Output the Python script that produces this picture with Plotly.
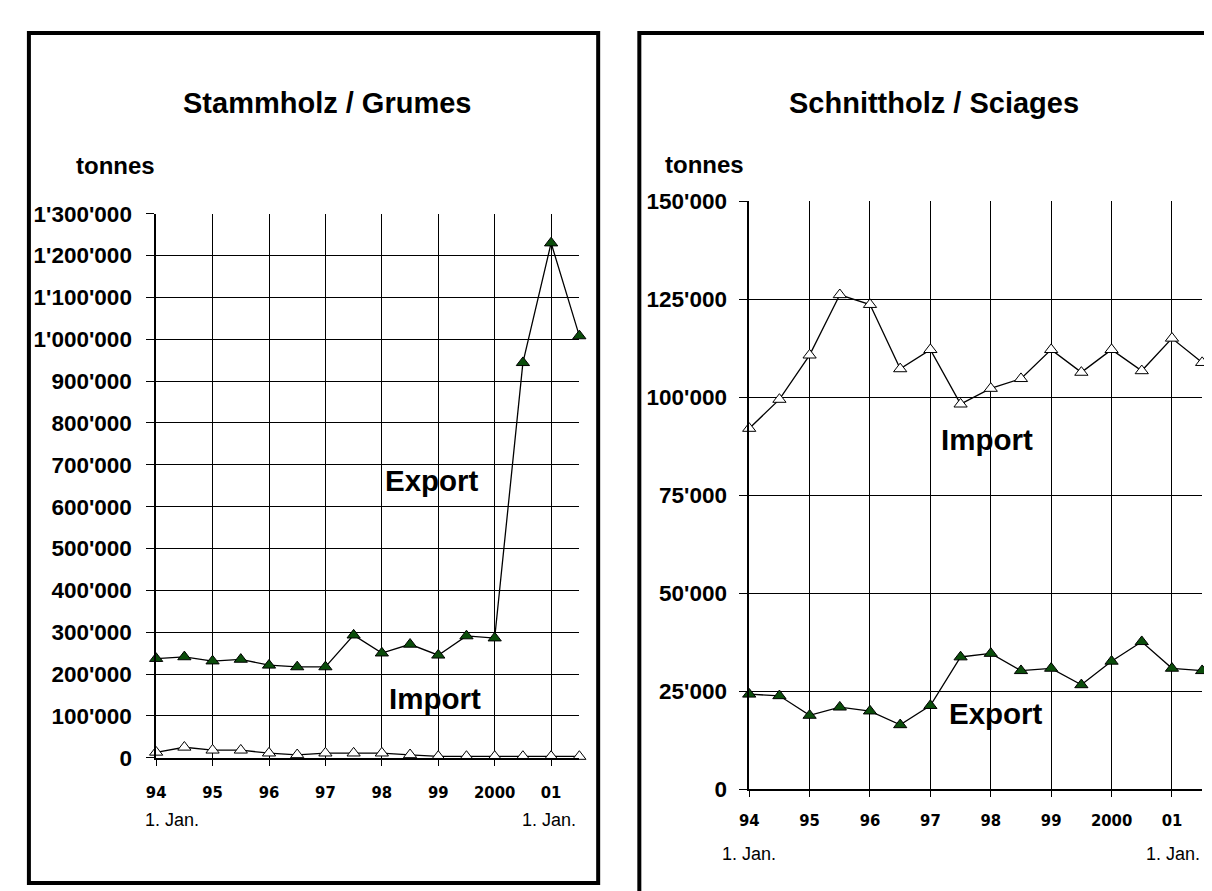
import plotly.graph_objects as go

W, H = 1212, 891

# ---------------- data ----------------
periods = [1994.0, 1994.5, 1995.0, 1995.5, 1996.0, 1996.5, 1997.0, 1997.5,
           1998.0, 1998.5, 1999.0, 1999.5, 2000.0, 2000.5, 2001.0, 2001.5]
year_ticks = [1994, 1995, 1996, 1997, 1998, 1999, 2000, 2001]
year_labels = ["94", "95", "96", "97", "98", "99", "2000", "01"]

# Stammholz / Grumes (tonnes)
logs_export = [237000, 241000, 231000, 235000, 221000, 217000, 217000, 293000,
               250000, 271000, 245000, 291000, 286000, 944000, 1230000, 1008000]
logs_import = [13000, 25000, 18000, 18000, 11000, 7000, 11000, 11000,
               11000, 7000, 3000, 3000, 3000, 3000, 3000, 3000]
logs_yticks = [0, 100000, 200000, 300000, 400000, 500000, 600000, 700000,
               800000, 900000, 1000000, 1100000, 1200000, 1300000]

# Schnittholz / Sciages (tonnes)
sawn_import = [92100, 99500, 110800, 126200, 123700, 107300, 112200, 98300,
               102300, 104800, 112200, 106400, 112200, 106800, 115100, 108900]
sawn_export = [24300, 23900, 18900, 21000, 20000, 16500, 21400, 33800,
               34700, 30300, 30900, 26700, 32700, 37700, 30900, 30300]
sawn_yticks = [0, 25000, 50000, 75000, 100000, 125000, 150000]


def fmt(v):
    return f"{v:,}".replace(",", "'")


GREEN = "#0b4d0b"
FONT = "Liberation Sans, Arial, sans-serif"
NARROW = "DejaVu Sans Condensed, DejaVu Sans, sans-serif"


def px(x):
    return x / W


def py(y):
    return 1 - y / H


fig = go.Figure()


def add_series(xa, ya, x, y, fill):
    fig.add_trace(go.Scatter(
        x=x, y=y, xaxis=xa, yaxis=ya, mode="lines+markers",
        line=dict(color="black", width=1.3),
        marker=dict(symbol="triangle-up", size=11.5, color=fill,
                    line=dict(color="black", width=1)),
        showlegend=False, cliponaxis=False, hoverinfo="skip"))


add_series("x", "y", periods, logs_export, GREEN)
add_series("x", "y", periods, logs_import, "white")
add_series("x2", "y2", periods, sawn_import, "white")
add_series("x2", "y2", periods, sawn_export, GREEN)

xaxis_common = dict(
    range=[1994, 2001.5], tickvals=year_ticks, ticktext=year_labels,
    showgrid=True, gridcolor="black", gridwidth=1,
    showline=True, linecolor="black", linewidth=2,
    ticks="outside", ticklen=6, tickcolor="black", tickwidth=1,
    tickfont=dict(family=NARROW, size=16.5, color="black", weight="bold"),
    zeroline=False, fixedrange=True,
)
yaxis_common = dict(
    showgrid=True, gridcolor="black", gridwidth=1,
    showline=True, linecolor="black", linewidth=1.5,
    ticks="outside", ticklen=8, tickcolor="black", tickwidth=1,
    tickfont=dict(family=FONT, size=22.5, color="black", weight="bold"),
    zeroline=False, fixedrange=True,
)

fig.update_layout(
    width=W, height=H,
    margin=dict(l=0, r=0, t=0, b=0),
    paper_bgcolor="white", plot_bgcolor="white",
    xaxis=dict(domain=[px(139.3), px(566)], anchor="y",
               ticklabelstandoff=12, **xaxis_common),
    yaxis=dict(domain=[py(759), py(199.3)], anchor="x",
               range=[0, 1300000], tickvals=logs_yticks,
               ticktext=[fmt(v) for v in logs_yticks],
               ticklabelstandoff=10, **yaxis_common),
    xaxis2=dict(domain=[px(737.3), px(1194)], anchor="y2",
                ticklabelstandoff=9, **xaxis_common),
    yaxis2=dict(domain=[py(791.7), py(186.7)], anchor="x2",
                range=[0, 150000], tickvals=sawn_yticks,
                ticktext=[fmt(v) for v in sawn_yticks],
                ticklabelstandoff=8, **yaxis_common),
)

# panel frames
fig.add_shape(type="rect", xref="paper", yref="paper",
              x0=px(11), x1=px(585), y0=py(888), y1=py(13.5),
              line=dict(color="black", width=4), layer="below")
fig.add_shape(type="rect", xref="paper", yref="paper",
              x0=px(626.5), x1=px(1225), y0=py(905), y1=py(13.5),
              line=dict(color="black", width=4), layer="below")


def label(x, y, text, size, bold=True):
    fig.add_annotation(x=px(x), y=py(y), xref="paper", yref="paper",
                       text=text, showarrow=False, xanchor="center",
                       yanchor="middle",
                       font=dict(family=FONT, size=size, color="black",
                                 weight="bold" if bold else "normal"))


# left panel texts
label(312, 85, "Stammholz / Grumes", 29)
label(98, 150, "tonnes", 24)
label(417, 474, "Export", 29.5)
label(420, 698, "Import", 29.5)
label(155, 823, "1. Jan.", 18, bold=False)
label(535, 823, "1. Jan.", 18, bold=False)

# right panel texts
label(924, 85, "Schnittholz / Sciages", 29)
label(692, 149, "tonnes", 24)
label(977, 432, "Import", 29.5)
label(986, 714, "Export", 29.5)
label(737, 858, "1. Jan.", 18, bold=False)
label(1165, 858, "1. Jan.", 18, bold=False)

fig.write_html("out.html")
